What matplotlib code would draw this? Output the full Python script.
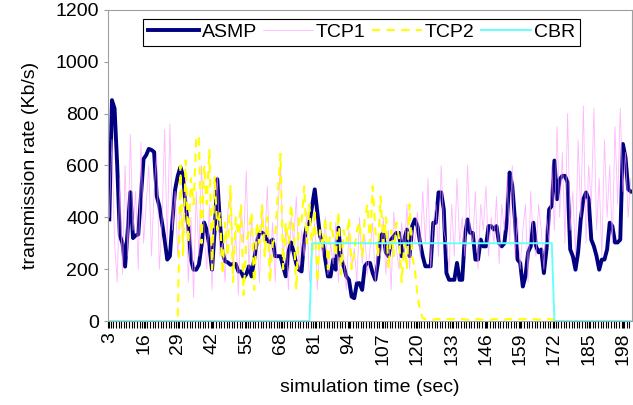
import numpy as np
import matplotlib
matplotlib.use("Agg")
import matplotlib.pyplot as plt

plt.rcParams["font.family"] = ["Liberation Sans", "DejaVu Sans"]

# simulation time categories start at 3 sec
t_start = 3

asmp = [392, 852, 820, 600, 330, 300, 210, 353, 497, 320,
        330, 334, 478, 625, 640, 664, 660, 652, 482, 443,
        380, 314, 237, 250, 392, 508, 560, 594, 560, 443,
        365, 237, 198, 198, 217, 288, 380, 350, 288, 198,
        350, 547, 380, 264, 230, 226, 217, 220, 220, 191,
        191, 167, 180, 211, 172, 237, 303, 341, 341, 334,
        310, 303, 314, 250, 250, 250, 211, 172, 265, 303,
        265, 220, 198, 191, 314, 366, 380, 444, 508, 418,
        328, 303, 237, 172, 172, 237, 198, 360, 237, 211,
        172, 159, 94, 88, 146, 146, 120, 211, 224, 224,
        185, 159, 224, 327, 340, 265, 250, 314, 327, 340,
        340, 250, 314, 353, 250, 366, 392, 366, 303, 250,
        211, 211, 211, 379, 379, 496, 496, 431, 185, 159,
        159, 159, 224, 159, 159, 327, 392, 340, 340, 237,
        237, 314, 288, 288, 366, 366, 353, 366, 300, 288,
        300, 392, 573, 522, 392, 237, 224, 133, 172, 265,
        288, 379, 288, 265, 276, 185, 276, 431, 444, 619,
        470, 547, 560, 560, 535, 276, 250, 198, 265, 392,
        470, 496, 470, 314, 288, 250, 198, 237, 237, 276,
        379, 366, 303, 303, 314, 683, 630, 508, 500]

tcp1 = [400, 700, 300, 150, 550, 180, 600, 250, 720, 350, 500, 200, 690, 300,
        450, 600, 250, 500, 650, 200, 380, 740, 300, 760, 350, 500, 250, 450,
        300, 550, 150, 400, 90, 500, 250, 600, 350, 200, 450, 120, 380, 560, 250,
        300, 150, 420, 500, 200, 350, 100, 450, 300, 580, 200, 400, 250, 350, 150,
        450, 300, 520, 200, 380, 150, 420, 600, 250, 350, 120, 400, 300, 480, 200,
        350, 250, 420, 150, 300, 380, 120, 350, 250, 400, 180, 300, 220, 380, 150,
        300, 250, 120, 350, 200, 280, 150, 400, 220, 330, 180, 280, 380, 150, 300,
        250, 400, 180, 350, 120, 420, 280, 200, 380, 250, 450, 200, 350, 300, 420,
        250, 500, 300, 550, 200, 380, 450, 250, 600, 350, 300, 200, 450, 250, 550,
        300, 400, 250, 600, 350, 300, 500, 200, 450, 350, 520, 250, 400, 300, 480,
        220, 450, 350, 550, 300, 600, 250, 400, 200, 350, 450, 150, 500, 300, 250,
        450, 350, 200, 400, 300, 600, 350, 750, 400, 650, 300, 800, 350, 500, 250,
        700, 400, 830, 300, 600, 450, 820, 350, 550, 250, 700, 400, 600, 300, 750,
        450, 820, 500, 650, 400, 550]

tcp2 = [0, 0, 0, 0, 0, 0, 0, 0, 0, 0, 0, 0, 0, 0, 0, 0, 0, 0, 0, 0, 0, 0, 0, 0, 0, 0, 0,
        600, 250, 620, 300, 550, 450, 700, 716, 300, 600, 450, 660, 200, 560, 350,
        420, 180, 380, 250, 520, 150, 400, 330, 450, 100, 300, 350, 420, 120, 380,
        300, 450, 250, 400, 150, 300, 320, 500, 645, 200, 380, 300, 450, 350, 120,
        400, 380, 520, 300, 450, 250, 430, 150, 350, 280, 400, 200, 380, 330, 250,
        420, 180, 350, 300, 400, 200, 260, 350, 380, 250, 400, 450, 300, 520, 350,
        250, 480, 300, 400, 200, 350, 250, 380, 320, 150, 300, 200, 450, 250, 200,
        100, 40, 10,
        8, 6, 8, 5, 7, 8, 6, 5, 8, 7, 6, 8, 5, 7, 8, 6, 5, 8, 7, 6, 8, 5, 7, 8, 6,
        5, 8, 7, 6, 8, 5, 7, 8, 6, 5, 8, 7, 6, 8, 5, 7, 8, 6, 5, 8, 7, 6, 8, 5, 7,
        0, 0, 0, 0, 0, 0, 0, 0, 0, 0, 0, 0, 0, 0, 0, 0, 0, 0, 0, 0, 0, 0, 0, 0, 0, 0, 0, 0, 0]

cbr_on, cbr_off, cbr_rate = 80, 172, 300

t = np.arange(t_start, t_start + len(asmp))
cbr = np.where((t >= cbr_on) & (t < cbr_off), cbr_rate, 0)

fig = plt.figure(figsize=(6.33, 4.05), dpi=100)
ax = fig.add_axes([0.1706, 0.2074, 0.828, 0.768])

ax.plot(t, asmp, color="#000080", lw=2.8, label="ASMP")
ax.plot(t[:len(tcp1)], tcp1, color="#ff99ff", lw=0.6, alpha=0.7, label="TCP1")
ax.plot(t[:len(tcp2)], tcp2, color="#ffff00", lw=1.5, ls=(0, (4, 3)), label="TCP2")
ax.plot(t, cbr, color="#66ffff", lw=1.4, label="CBR")

ax.set_xlim(t[0] - 0.5, t[-1] + 0.5)
ax.set_ylim(0, 1200)
ax.set_yticks(range(0, 1201, 200))
ax.set_xticks(t[::13])
ax.set_xticklabels([str(v) for v in t[::13]], rotation=90)
ax.set_xticks(t - 0.5, minor=True)
ax.tick_params(axis="x", which="both", length=5, width=0.8, color="black",
               labelsize=14, pad=3)
ax.tick_params(axis="y", length=3, color="#999999", labelsize=14)

for s in ax.spines.values():
    s.set_color("#a0a0a0")

ax.set_xlabel("simulation time (sec)", fontsize=14, labelpad=10)
ax.set_ylabel("transmission rate (Kb/s)", fontsize=14, labelpad=12)

leg = ax.legend(loc="upper center", bbox_to_anchor=(0.484, 0.972), ncol=4,
                fontsize=14, frameon=True, fancybox=False, framealpha=1,
                edgecolor="black", handlelength=2.6, handletextpad=0.15,
                columnspacing=0.3, borderpad=0.25, borderaxespad=0)
leg.get_frame().set_linewidth(0.8)

fig.savefig("out.png", dpi=100)
